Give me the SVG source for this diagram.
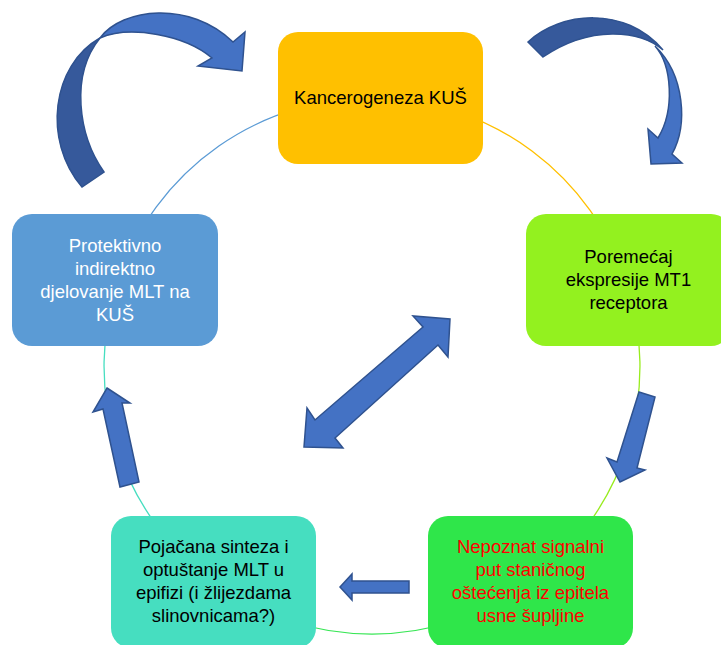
<svg xmlns="http://www.w3.org/2000/svg" width="721" height="645" viewBox="0 0 721 645">
<style>
.arc{fill:none;stroke-width:1.3}
.box{stroke:none}
.t{font-family:"Liberation Sans",Arial,sans-serif;font-size:18.5px;text-anchor:middle}
.ar{fill:#4472C4;stroke:#2F528F;stroke-width:1.5;stroke-linejoin:miter}
.dk{fill:#36599B;stroke:#2F528F;stroke-width:1.5}
</style>
<rect width="721" height="645" fill="#FFFFFF"/>
<g id="connectors">
<path class="arc" stroke="#FFC000" d="M380.4,98.1 A268,268 0 0 1 626.1,281"/>
<path class="arc" stroke="#98EC1E" d="M626.1,281 A268,268 0 0 1 530.7,582"/>
<path class="arc" stroke="#38E655" d="M530.7,582 A268,268 0 0 1 213.3,582"/>
<path class="arc" stroke="#46DEC0" d="M213.3,582 A268,268 0 0 1 117.9,281"/>
<path class="arc" stroke="#5B9BD5" d="M117.9,281 A268,268 0 0 1 380.4,98.1"/>
</g>
<g id="node-kancerogeneza">
<rect class="box" x="278" y="32" width="205" height="132" rx="20" fill="#FFC000"/>
<text class="t" x="380.5" y="104" fill="#000000">Kancerogeneza KUŠ</text>
</g>
<g id="node-poremecaj">
<rect class="box" x="526" y="214" width="205" height="132" rx="20" fill="#93F11F"/>
<text class="t" fill="#000000"><tspan x="628.5" y="263">Poremećaj</tspan><tspan x="628.5" y="286">ekspresije MT1</tspan><tspan x="628.5" y="309">receptora</tspan></text>
</g>
<g id="node-nepoznat">
<rect class="box" x="428" y="516" width="205" height="132" rx="20" fill="#2FE64A"/>
<text class="t" fill="#FF0000"><tspan x="530.5" y="553">Nepoznat signalni</tspan><tspan x="530.5" y="576">put staničnog</tspan><tspan x="530.5" y="599">oštećenja iz epitela</tspan><tspan x="530.5" y="622">usne šupljine</tspan></text>
</g>
<g id="node-pojacana">
<rect class="box" x="111" y="516" width="205" height="132" rx="20" fill="#46DEC0"/>
<text class="t" fill="#000000"><tspan x="213.5" y="553">Pojačana sinteza i</tspan><tspan x="213.5" y="576">optuštanje MLT u</tspan><tspan x="213.5" y="599">epifizi (i žlijezdama</tspan><tspan x="213.5" y="622">slinovnicama?)</tspan></text>
</g>
<g id="node-protektivno">
<rect class="box" x="12" y="214" width="206" height="132" rx="20" fill="#5B9BD5"/>
<text class="t" fill="#FFFFFF"><tspan x="115" y="252">Protektivno</tspan><tspan x="115" y="275">indirektno</tspan><tspan x="115" y="298">djelovanje MLT na</tspan><tspan x="115" y="321">KUŠ</tspan></text>
</g>
<g id="arrows">
<path class="dk" d="M100,38 C52,65 42,140 82,187 L104,172 C78,135 70,75 100,38 Z"/>
<path class="ar" d="M100,38 C122,8 190,0 233,42 L245,32 L242,71 L198,66 L212,58 C185,35 130,25 100,38 Z"/>
<path class="dk" d="M528,42 C560,12 625,5 663,50 C640,30 590,25 543,57 Z"/>
<path class="ar" d="M655,46 C672,65 675,110 658,138 L648,129 L651,164 L682,163 L672,154 C688,125 685,75 655,46 Z"/>
<path class="ar" d="M450,319 L448,357 L438,345 L335,438 L343,448 L304,447 L307,408 L315,420 L423,327 L413,316 Z"/>
<path class="ar" d="M639,392 L655,397 L637,468 L645,470 L620,482 L607,458 L617,462 Z"/>
<path class="ar" d="M107,388 L130,403 L122,403 L139,482 L120,487 L103,409 L93,412 Z"/>
<path class="ar" d="M340,587 L352,574 L352,581 L409,581 L409,593 L352,593 L352,600 Z"/>
</g>
</svg>
